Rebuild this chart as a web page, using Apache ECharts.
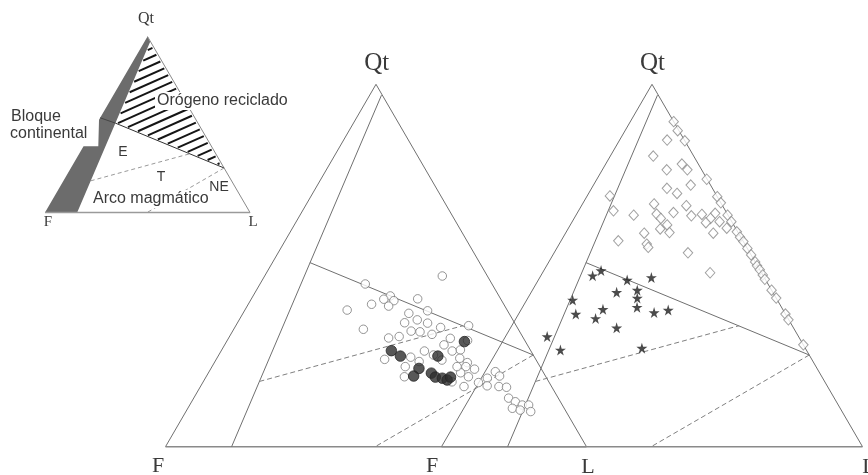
<!DOCTYPE html>
<html>
<head>
<meta charset="utf-8">
<script src="https://cdn.jsdelivr.net/npm/echarts@6.0.0/dist/echarts.min.js"></script>
<style>
  html, body { margin: 0; padding: 0; background: #fff; }
  #chart { width: 868px; height: 475px; }
</style>
</head>
<body>
<div id="chart"></div>
<script>
// compositions as [Qt, F, L] in %
const openCircles = [
  [47.1, 10.7, 42.2], [44.9, 30.1, 25.0], [41.6, 25.8, 32.6], [40.7, 27.8, 31.5],
  [40.3, 25.6, 34.1], [39.3, 31.4, 29.3], [38.8, 27.6, 33.6], [40.8, 19.7, 39.5],
  [37.7, 38.0, 24.3], [37.5, 19.0, 43.5], [36.8, 23.8, 39.4], [35.0, 22.7, 42.3],
  [34.2, 26.1, 39.7], [34.1, 20.7, 45.2], [32.9, 18.2, 48.9], [33.4, 11.3, 55.3],
  [32.4, 36.8, 30.8], [31.9, 25.7, 42.4], [31.7, 23.7, 44.6], [31.0, 21.2, 47.8],
  [30.0, 32.0, 38.0], [30.4, 29.3, 40.3], [29.9, 17.4, 52.7], [28.1, 19.8, 52.1],
  [29.3, 13.6, 57.1], [26.4, 18.7, 54.9], [26.4, 25.3, 48.3], [26.7, 16.6, 56.7],
  [25.3, 23.7, 51.0], [24.1, 35.9, 40.0], [24.7, 29.4, 45.9], [23.5, 28.0, 48.5],
  [23.9, 22.4, 53.7], [24.4, 17.9, 57.7], [23.2, 16.7, 60.1], [22.1, 17.6, 60.3],
  [21.4, 15.9, 62.7], [20.4, 19.7, 59.9], [19.3, 18.4, 62.3], [19.3, 33.6, 47.1],
  [17.9, 23.0, 59.1], [16.6, 20.8, 62.6], [17.7, 16.8, 65.5], [18.9, 14.1, 67.0],
  [20.7, 11.3, 68.0], [16.8, 15.2, 68.0], [19.5, 10.9, 69.6], [16.6, 12.5, 70.9],
  [16.4, 10.8, 72.8], [13.4, 11.8, 74.8], [12.4, 10.7, 76.9], [11.5, 9.5, 79.0],
  [11.5, 8.0, 80.5], [10.6, 12.3, 77.1], [10.1, 10.7, 79.2], [9.7, 8.4, 81.9],
  [22.1, 32.0, 45.9], [22.1, 19.7, 58.2]
]
const filledCircles = [
  [29.0, 14.5, 56.5], [26.5, 33.1, 40.4], [25.0, 31.7, 43.3], [25.0, 22.8, 52.2],
  [21.6, 29.0, 49.4], [19.5, 31.3, 49.2], [20.3, 26.7, 53.0], [19.2, 26.3, 54.5],
  [18.9, 24.8, 56.3], [18.4, 23.9, 57.7], [19.2, 22.7, 58.1]
]
const diamonds = [
  [89.7, 0.0, 10.3], [87.2, 0.3, 12.5], [84.4, 0.0, 15.6], [84.6, 4.1, 11.3],
  [80.2, 9.6, 10.2], [78.0, 3.9, 18.1], [76.4, 3.4, 20.2], [76.4, 8.3, 15.3],
  [72.2, 4.7, 23.1], [73.8, 0.1, 26.1], [71.3, 10.8, 17.9], [69.9, 9.1, 21.0],
  [69.0, 0.0, 31.0], [67.3, 0.0, 32.7], [69.2, 25.4, 5.4], [65.1, 26.6, 8.3],
  [67.0, 16.0, 17.0], [66.5, 8.6, 24.9], [64.6, 12.6, 22.8], [63.9, 22.4, 13.7],
  [64.2, 16.8, 19.0], [63.0, 16.4, 20.6], [63.7, 8.8, 27.5], [64.1, 6.1, 29.8],
  [64.4, 2.8, 32.8], [63.0, 4.6, 32.4], [61.8, 6.3, 31.9], [62.1, 2.9, 35.0],
  [63.9, 0.1, 36.0], [62.1, 0.1, 37.8], [60.3, 2.1, 37.6], [61.2, 15.8, 23.0],
  [60.1, 18.0, 21.9], [59.1, 16.3, 24.6], [58.9, 22.4, 18.7], [58.9, 6.0, 35.1],
  [59.3, 0.2, 40.5], [57.8, 0.2, 42.0], [56.6, 0.0, 43.4], [56.8, 29.6, 13.6],
  [55.9, 23.3, 20.8], [55.0, 23.4, 21.6], [53.5, 14.7, 31.8], [54.7, 0.0, 45.3],
  [52.9, 0.0, 47.1], [51.0, 0.0, 49.0], [49.9, 0.1, 50.0], [48.8, 0.0, 51.2],
  [47.4, 0.0, 52.6], [46.2, 0.1, 53.7], [48.0, 12.2, 39.8], [43.2, 0.0, 56.8],
  [41.0, 0.0, 59.0], [36.6, 0.0, 63.4], [35.0, 0.1, 64.9], [28.1, 0.0, 71.9]
]
const stars = [
  [48.6, 37.8, 13.6], [47.2, 40.5, 12.3], [46.0, 32.9, 21.1], [46.7, 26.8, 26.5],
  [42.6, 37.1, 20.3], [43.2, 31.9, 24.9], [41.0, 33.0, 26.0], [38.5, 34.3, 27.2],
  [40.5, 48.6, 10.9], [36.6, 49.8, 13.6], [37.9, 42.7, 19.4], [35.4, 45.7, 18.9],
  [37.0, 31.0, 32.0], [37.7, 27.3, 35.0], [32.8, 42.0, 25.2], [30.4, 59.7, 9.9],
  [26.7, 58.4, 14.9], [27.2, 38.8, 34.0]
]

// field boundaries, [Qt, F, L]
const sideEdges = [[0, 100, 0], [100, 0, 0], [0, 0, 100]]
const baseEdge = [[0, 100, 0], [0, 0, 100]]
const blockLine = [[97, 0.2, 2.8], [0, 84.3, 15.7]]
const orogenLine = [[50.8, 40.3, 8.9], [25.3, 0, 74.7]]
const orogenLineInset = [[53.8, 46.2, 0], [50.8, 40.3, 8.9]]
const dashUpper = [[18, 68.7, 13.3], [33.4, 12.6, 54]]
const dashLower = [[25.3, 0, 74.7], [0, 50.2, 49.8]]
const blockField = [[0, 100, 0], [37.6, 62.4, 0], [37.6, 55.2, 7.2], [52.7, 47.3, 0],
  [100, 0, 0], [97, 0.2, 2.8], [0, 84.3, 15.7]]
const orogenField = [[100, 0, 0], [97, 0.2, 2.8], [50.8, 40.3, 8.9], [25.3, 0, 74.7]]

const vertexNames = ['Qt', 'F', 'L']

const toXY = (p) => [p[2] + p[0] / 2, p[0]]

const lineColor = '#707070'

function lineSeries(idx, pts, style) {
  return {
    type: 'line', xAxisIndex: idx, yAxisIndex: idx,
    data: pts.map(toXY), symbol: 'none', silent: true, clip: false, z: 2,
    lineStyle: Object.assign({ color: lineColor, width: 1 }, style)
  }
}

function polygonSeries(idx, pts, color) {
  return {
    type: 'custom', xAxisIndex: idx, yAxisIndex: idx, data: [0], silent: true, clip: false, z: 1,
    renderItem: (params, api) => ({
      type: 'polygon',
      shape: { points: pts.map((p) => api.coord(toXY(p))) },
      style: { fill: color }
    })
  }
}

// diagonal hatching clipped to a convex field
function hatchSeries(idx, pts, angle, gap) {
  return {
    type: 'custom', xAxisIndex: idx, yAxisIndex: idx, data: [0], silent: true, clip: false, z: 1,
    renderItem: (params, api) => {
      const poly = pts.map((p) => api.coord(toXY(p)))
      const a = angle * Math.PI / 180
      const d = [Math.cos(a), -Math.sin(a)]
      const n = [Math.sin(a), Math.cos(a)]
      const dot = (p, v) => p[0] * v[0] + p[1] * v[1]
      const sv = poly.map((p) => dot(p, n))
      const smin = Math.min(...sv)
      const smax = Math.max(...sv)
      const children = []
      for (let s = smin + gap * 0.6; s < smax - 1; s += gap) {
        const hits = []
        for (let i = 0; i < poly.length; i++) {
          const j = (i + 1) % poly.length
          if ((sv[i] - s) * (sv[j] - s) <= 0 && sv[i] !== sv[j]) {
            const t = (s - sv[i]) / (sv[j] - sv[i])
            hits.push([poly[i][0] + t * (poly[j][0] - poly[i][0]), poly[i][1] + t * (poly[j][1] - poly[i][1])])
          }
        }
        if (hits.length < 2) continue
        hits.sort((u, v) => dot(u, d) - dot(v, d))
        const p0 = hits[0]
        const p1 = hits[hits.length - 1]
        const len = dot(p1, d) - dot(p0, d)
        if (len < 4) continue
        children.push({
          type: 'line',
          shape: { x1: p0[0] + d[0] * 1.5, y1: p0[1] + d[1] * 1.5, x2: p1[0] - d[0] * 1.5, y2: p1[1] - d[1] * 1.5 },
          style: { stroke: '#151515', lineWidth: 2 }
        })
      }
      return { type: 'group', children }
    }
  }
}

function fieldLines(idx, dashColor) {
  return [
    lineSeries(idx, blockLine, {}),
    lineSeries(idx, orogenLine, {}),
    lineSeries(idx, dashUpper, { type: [5, 3], color: dashColor }),
    lineSeries(idx, dashLower, { type: [5, 3], color: dashColor })
  ]
}

const starPath = 'path://M50,0 L61,35 L98,35 L68,57 L79,91 L50,70 L21,91 L32,57 L2,35 L39,35 Z'

const grids = [
  { left: 45, top: 36.5, width: 205, height: 176 },
  { left: 165.5, top: 84.3, width: 421, height: 362.4 },
  { left: 441.5, top: 84.3, width: 421, height: 362.4 }
]

const axis = { type: 'value', min: 0, max: 100, show: false }

const series = [
  // inset
  polygonSeries(0, blockField, '#6c6c6c'),
  hatchSeries(0, orogenField, 24, 7.8),
  lineSeries(0, [[100, 0, 0], [0, 0, 100]], { color: '#8a8a8a' }),
  lineSeries(0, baseEdge, { color: '#9a9a9a', width: 1.5 }),
  lineSeries(0, orogenLine, { color: '#333' }),
  lineSeries(0, orogenLineInset, { color: '#444' }),
  lineSeries(0, dashUpper, { type: [4, 3], color: '#9a9a9a' }),
  lineSeries(0, dashLower, { type: [4, 3], color: '#9a9a9a' }),
  // left diagram
  lineSeries(1, sideEdges, {}),
  lineSeries(1, baseEdge, { color: '#8a8a8a', width: 1.5 }),
  ...fieldLines(1, '#808080'),
  {
    type: 'scatter', xAxisIndex: 1, yAxisIndex: 1, data: openCircles.map(toXY), clip: false, z: 3,
    symbol: 'circle', symbolSize: 8.5,
    itemStyle: { color: '#fff', borderColor: '#7a7a7a', borderWidth: 1 }
  },
  {
    type: 'scatter', xAxisIndex: 1, yAxisIndex: 1, data: filledCircles.map(toXY), clip: false, z: 4,
    symbol: 'circle', symbolSize: 10.5,
    itemStyle: { color: '#2e2e2e', borderColor: '#262626', borderWidth: 1 }
  },
  // right diagram
  lineSeries(2, sideEdges, {}),
  lineSeries(2, baseEdge, { color: '#8a8a8a', width: 1.5 }),
  ...fieldLines(2, '#808080'),
  {
    type: 'scatter', xAxisIndex: 2, yAxisIndex: 2, data: diamonds.map(toXY), clip: false, z: 3,
    symbol: 'diamond', symbolSize: [9.5, 10.5],
    itemStyle: { color: '#fff', borderColor: '#888', borderWidth: 1 }
  },
  {
    type: 'scatter', xAxisIndex: 2, yAxisIndex: 2, data: stars.map(toXY), clip: false, z: 4,
    symbol: starPath, symbolSize: 11,
    itemStyle: { color: '#1e1e1e' }
  }
]

const serif = '"Liberation Serif", "DejaVu Serif", serif'
const sans = '"Liberation Sans", Arial, sans-serif'

function label(text, x, y, font, align) {
  return {
    type: 'text', x, y, z: 10, silent: true,
    style: { text, font, fill: '#3a3a3a', textAlign: align || 'center', textVerticalAlign: 'middle' }
  }
}

function whiteBox(x, y, w, h) {
  return { type: 'rect', z: 9, silent: true, shape: { x, y, width: w, height: h }, style: { fill: '#fff' } }
}

const graphic = [
  // inset labels
  label(vertexNames[0], 146, 19, '16px ' + serif),
  label(vertexNames[1], 48, 222, '15px ' + serif),
  label(vertexNames[2], 253, 222, '15px ' + serif),
  whiteBox(155, 92, 142, 18),
  label('Orógeno reciclado', 157, 101, '16px ' + sans, 'left'),
  label('Bloque', 11, 117, '16px ' + sans, 'left'),
  label('continental', 10, 134, '16px ' + sans, 'left'),
  label('E', 123, 152, '14px ' + sans),
  label('T', 161, 177, '14px ' + sans),
  label('NE', 219, 187, '14px ' + sans),
  whiteBox(91, 190, 128, 18),
  label('Arco magmático', 93, 199, '16px ' + sans, 'left'),
  // main diagrams
  label(vertexNames[0], 376.7, 63, '25px ' + serif),
  label(vertexNames[1], 158, 466, '22px ' + serif),
  label(vertexNames[2], 588, 467, '22px ' + serif),
  label(vertexNames[0], 652.5, 63, '25px ' + serif),
  label(vertexNames[1], 432, 466, '22px ' + serif),
  label(vertexNames[2], 869, 467, '22px ' + serif)
]

const chart = echarts.init(document.getElementById('chart'))
chart.setOption({
  animation: false,
  backgroundColor: '#fff',
  grid: grids,
  xAxis: grids.map((g, i) => Object.assign({ gridIndex: i }, axis)),
  yAxis: grids.map((g, i) => Object.assign({ gridIndex: i }, axis)),
  series,
  graphic
})
</script>
</body>
</html>
